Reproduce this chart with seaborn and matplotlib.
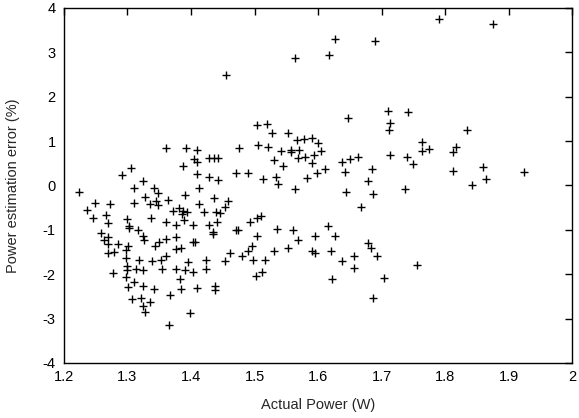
import numpy as np
import pandas as pd
import matplotlib
matplotlib.use("Agg")
import matplotlib.pyplot as plt
import seaborn as sns

# actual power (W) and estimation error (%)
actual_power = [
    1.455, 1.564, 1.618, 1.627, 1.690, 1.791, 1.876,
    1.360, 1.392, 1.409, 1.405, 1.410, 1.429, 1.436, 1.442, 1.387, 1.306, 1.292, 1.325, 1.409, 1.429, 1.443,
    1.647, 1.710, 1.714, 1.712, 1.714, 1.504, 1.519, 1.527, 1.553, 1.476, 1.506, 1.521, 1.567, 1.578,
    1.591, 1.600, 1.542, 1.557, 1.557, 1.570, 1.604, 1.594, 1.579, 1.568, 1.530, 1.590, 1.545, 1.637,
    1.650, 1.663, 1.685, 1.643, 1.679, 1.611, 1.599, 1.583, 1.471, 1.489, 1.513, 1.534,
    1.741, 1.835, 1.764, 1.764, 1.774, 1.817, 1.812, 1.740, 1.749, 1.813, 1.860, 1.865, 1.925, 1.842,
    1.223, 1.249, 1.236, 1.272, 1.245, 1.266, 1.270, 1.259, 1.269, 1.263, 1.270, 1.270, 1.279, 1.285,
    1.277, 1.298, 1.297, 1.301, 1.300, 1.300, 1.298, 1.301, 1.310, 1.307, 1.325, 1.322, 1.325, 1.327,
    1.336, 1.341, 1.365, 1.367, 1.318, 1.314, 1.325, 1.339, 1.353, 1.354, 1.360, 1.317, 1.325, 1.326,
    1.302, 1.300, 1.303, 1.311, 1.311, 1.328, 1.335, 1.342, 1.348, 1.345, 1.348, 1.364, 1.337, 1.360,
    1.343, 1.350, 1.361,
    1.413, 1.391, 1.436, 1.459, 1.454, 1.413, 1.381, 1.372, 1.387, 1.393, 1.386, 1.420, 1.440, 1.445,
    1.389, 1.376, 1.403, 1.429, 1.441, 1.435, 1.435, 1.376, 1.403, 1.406, 1.377, 1.384, 1.395, 1.424,
    1.377, 1.391, 1.403, 1.424, 1.383, 1.384, 1.409, 1.438, 1.438, 1.398, 1.474, 1.471, 1.493, 1.504,
    1.510, 1.504, 1.496, 1.489, 1.462, 1.453, 1.481, 1.498, 1.516, 1.530, 1.553, 1.535, 1.561, 1.569,
    1.502, 1.512, 1.537, 1.563,
    1.644, 1.687, 1.737, 1.667, 1.595, 1.615, 1.627, 1.591, 1.596, 1.620, 1.638, 1.657, 1.656, 1.622,
    1.679, 1.683, 1.693, 1.704, 1.687, 1.756,
]
error_pct = [
    2.49, 2.87, 2.95, 3.31, 3.25, 3.74, 3.64,
    0.85, 0.84, 0.81, 0.60, 0.52, 0.63, 0.61, 0.62, 0.43, 0.40, 0.23, 0.10, 0.26, 0.20, 0.13,
    1.52, 1.68, 1.40, 1.25, 0.68, 1.36, 1.39, 1.18, 1.19, 0.85, 0.92, 0.87, 1.02, 1.05,
    1.08, 0.96, 0.78, 0.81, 0.76, 0.79, 0.77, 0.68, 0.64, 0.62, 0.58, 0.50, 0.43, 0.54,
    0.60, 0.64, 0.37, 0.30, 0.11, 0.36, 0.27, 0.17, 0.29, 0.28, 0.14, 0.19,
    1.66, 1.24, 0.99, 0.78, 0.82, 0.87, 0.76, 0.65, 0.49, 0.32, 0.42, 0.15, 0.30, 0.00,
    -0.15, -0.39, -0.55, -0.42, -0.73, -0.67, -0.85, -1.06, -1.15, -1.24, -1.32, -1.53, -1.51, -1.33,
    -1.97, -1.45, -1.64, -1.36, -1.82, -1.91, -2.06, -2.29, -2.17, -2.55, -2.27, -2.53, -2.71, -2.85,
    -2.62, -2.33, -3.15, -2.47, -1.67, -1.88, -1.91, -1.71, -1.68, -1.89, -1.58, -1.00, -1.14, -1.24,
    -0.92, -0.76, -0.95, -0.06, -0.39, -0.26, -0.42, -0.05, -0.18, -0.35, -0.45, -0.33, -0.73, -0.82,
    -1.36, -1.27, -1.21,
    -0.06, -0.21, -0.29, -0.35, -0.48, -0.42, -0.50, -0.57, -0.57, -0.59, -0.64, -0.60, -0.59, -0.62,
    -0.77, -0.89, -0.88, -0.89, -0.83, -1.05, -1.09, -1.15, -1.27, -1.27, -1.44, -1.42, -1.73, -1.68,
    -1.88, -1.91, -1.95, -1.88, -2.10, -2.33, -2.30, -2.26, -2.35, -2.88, -1.00, -1.01, -0.83, -0.74,
    -0.68, -1.14, -1.36, -1.47, -1.53, -1.70, -1.60, -1.68, -1.68, -1.47, -1.42, -0.97, -1.00, -1.23,
    -2.03, -1.95, 0.03, -0.09,
    -0.15, -0.20, -0.07, -0.48, -1.14, -0.92, -1.14, -1.48, -1.53, -1.47, -1.70, -1.59, -1.85, -2.10,
    -1.29, -1.42, -1.58, -2.08, -2.53, -1.80,
]

x_ticks = [1.2, 1.3, 1.4, 1.5, 1.6, 1.7, 1.8, 1.9, 2.0]
x_tick_labels = ["1.2", "1.3", "1.4", "1.5", "1.6", "1.7", "1.8", "1.9", "2"]
y_ticks = [-4, -3, -2, -1, 0, 1, 2, 3, 4]

df = pd.DataFrame({"power": actual_power, "error": error_pct})

sns.set_style("white")
plt.rcParams["font.family"] = ["Liberation Sans", "DejaVu Sans"]
plt.rcParams["axes.unicode_minus"] = False

fig, ax = plt.subplots(figsize=(5.79, 4.18), dpi=100)
fig.subplots_adjust(left=0.1105, right=0.988, top=0.981, bottom=0.1316)

sns.scatterplot(data=df, x="power", y="error", marker="+", color="black",
                s=32, linewidth=1.0, ax=ax, legend=False)

ax.set_xlim(1.2, 2.0)
ax.set_ylim(-4, 4)
ax.set_xticks(x_ticks)
ax.set_xticklabels(x_tick_labels)
ax.set_yticks(y_ticks)
ax.tick_params(direction="in", length=5, width=1, top=True, right=True,
               labelsize=10.5, colors="black")
ax.tick_params(axis="x", pad=5)
ax.tick_params(axis="y", pad=6)
for sp in ax.spines.values():
    sp.set_visible(True)
    sp.set_color("black")
    sp.set_linewidth(1)

ax.set_xlabel("Actual Power (W)", fontsize=10.5, labelpad=10)
ax.set_ylabel("Power estimation error (%)", fontsize=10.5, labelpad=16)

fig.savefig("out.png", dpi=100)
